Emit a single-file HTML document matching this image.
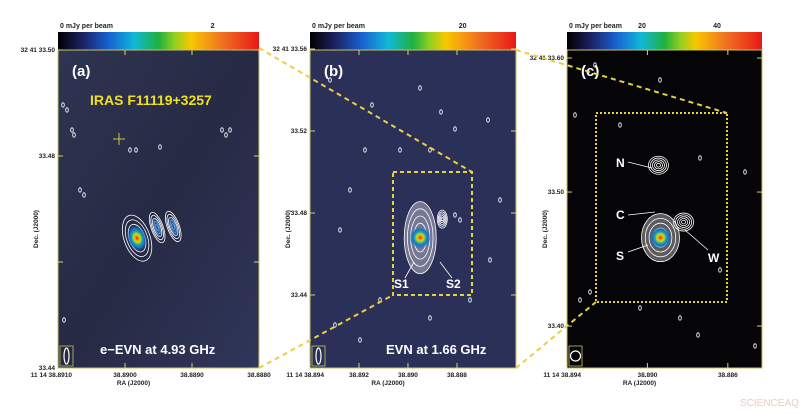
<!DOCTYPE html>
<html><head><meta charset="utf-8"><style>
body{margin:0;background:#fff;width:800px;height:414px;overflow:hidden;font-family:"Liberation Sans",sans-serif}
svg{display:block}
</style></head><body>
<svg id="fig" width="800" height="414" viewBox="0 0 800 414" xmlns="http://www.w3.org/2000/svg" font-family="Liberation Sans, sans-serif">
<defs>
<linearGradient id="cbar" x1="0" x2="1">
<stop offset="0" stop-color="#000"/><stop offset="0.12" stop-color="#1c2060"/><stop offset="0.25" stop-color="#1860d0"/><stop offset="0.38" stop-color="#10b8d8"/><stop offset="0.5" stop-color="#20b040"/><stop offset="0.58" stop-color="#90d020"/><stop offset="0.66" stop-color="#f8c800"/><stop offset="0.82" stop-color="#f07020"/><stop offset="1" stop-color="#e81818"/>
</linearGradient>
<radialGradient id="blob">
<stop offset="0" stop-color="#e01810"/><stop offset="0.18" stop-color="#f0a010"/><stop offset="0.35" stop-color="#c0d820"/><stop offset="0.5" stop-color="#20b090"/><stop offset="0.7" stop-color="#1870d0"/><stop offset="1" stop-color="#1870d0" stop-opacity="0"/>
</radialGradient>
<linearGradient id="bgA" x1="0" y1="0" x2="1" y2="1">
<stop offset="0" stop-color="#2e3452"/><stop offset="0.5" stop-color="#262a44"/><stop offset="1" stop-color="#30365a"/>
</linearGradient>
</defs>
<g id="root"></g>
<text x="740" y="406" font-size="10" fill="#f0c8c8">SCIENCEAQ.COM</text>
</svg>
<script>
// Panel axis data
const panelIds = ['a','b','c'];
const raTicksA = [38.8910, 38.8900, 38.8890, 38.8880];
const raLabelsA = ['11 14 38.8910','38.8900','38.8890','38.8880'];
const decTicksA = [33.50, 33.48, 33.46, 33.44];
const decLabelsA = ['32 41 33.50','33.48','','33.44'];
const raTicksB = [38.894, 38.892, 38.890, 38.888];
const raLabelsB = ['11 14 38.894','38.892','38.890','38.888'];
const decTicksB = [33.56, 33.52, 33.48, 33.44];
const decLabelsB = ['32 41 33.56','33.52','33.48','33.44'];
const raTicksC = [38.894, 38.890, 38.886];
const raLabelsC = ['11 14 38.894','38.890','38.886'];
const decTicksC = [33.60, 33.50, 33.40];
const decLabelsC = ['32 41 33.60','33.50','33.40'];
const cbarTicksA = [0, 2]; const cbarLabelsA = ['0 mJy per beam','2'];
const cbarTicksB = [0, 20]; const cbarLabelsB = ['0 mJy per beam','20'];
const cbarTicksC = [0, 20, 40]; const cbarLabelsC = ['0 mJy per beam','20','40'];
// source components: ra, dec, peak (relative)
const compRaA = [38.88982, 38.88952, 38.88928];
const compDecA = [33.4645, 33.4665, 33.4667];
const compPeakA = [1.0, 0.25, 0.3];
const compRaB = [38.8895, 38.8886];
const compDecB = [33.4680, 33.4770];
const compPeakB = [1.0, 0.3];
const compRaC = [38.88935, 38.88945, 38.8882];
const compDecC = [33.4660, 33.5200, 33.4776];
const compPeakC = [1.0, 0.35, 0.4];

const P = {
 a:{x0:58,x1:259,y0:50,y1:368,ra0:38.8910,ra1:38.8880,dec0:33.44,dec1:33.50,bg:'url(#bgA)',cmax:2.6},
 b:{x0:310,x1:516,y0:50,y1:368,ra0:38.894,ra1:38.88559,dec0:33.4044,dec1:33.5595,bg:'#2b3058',cmax:27},
 c:{x0:567,x1:762,y0:50,y1:368,ra0:38.894,ra1:38.8843,dec0:33.3687,dec1:33.6060,bg:'#050508',cmax:52}
};
const ns='http://www.w3.org/2000/svg';
const root=document.getElementById('root');
function mk(tag,attrs,parent){const e=document.createElementNS(ns,tag);for(const k in attrs)e.setAttribute(k,attrs[k]);(parent||root).appendChild(e);return e;}
function xs(p,ra){return p.x0+(ra-p.ra0)/(p.ra1-p.ra0)*(p.x1-p.x0);}
function ys(p,d){return p.y1-(d-p.dec0)/(p.dec1-p.dec0)*(p.y1-p.y0);}
function cx(p,v){return p.x0+v/p.cmax*(p.x1-p.x0);}

const sets={a:[raTicksA,raLabelsA,decTicksA,decLabelsA,cbarTicksA,cbarLabelsA,compRaA,compDecA,compPeakA],
 b:[raTicksB,raLabelsB,decTicksB,decLabelsB,cbarTicksB,cbarLabelsB,compRaB,compDecB,compPeakB],
 c:[raTicksC,raLabelsC,decTicksC,decLabelsC,cbarTicksC,cbarLabelsC,compRaC,compDecC,compPeakC]};
const speck={b:[[330,80],[372,105],[420,88],[441,112],[455,129],[365,150],[400,150],[430,150],[488,120],[350,190],[380,300],[430,318],[470,300],[335,325],[360,340],[490,260],[500,200],[340,230],[455,215],[460,220]],
 c:[[595,65],[660,80],[575,115],[620,125],[700,158],[745,172],[590,292],[640,308],[680,318],[698,335],[755,346],[580,300],[720,270]],
 a:[[63,105],[67,110],[72,130],[74,135],[130,150],[136,150],[222,130],[226,135],[230,130],[160,147],[64,320],[80,190],[84,195]]};

panelIds.forEach(id=>{
 const p=P[id];const [rt,rl,dt,dl,ct,cl,cr,cd,cp]=sets[id];
 const g=mk('g',{});
 
 
 const cb=mk('rect',{x:p.x0,y:32,width:p.x1-p.x0,height:18,fill:'url(#cbar)'},g);
 
 
 ct.forEach((v,i)=>{const t=mk('text',{x:cx(p,v)+(i==0?2:0),y:28,'font-size':7,'font-weight':'bold',fill:'#222','text-anchor':i==0?'start':'middle'},g);t.textContent=cl[i];
  
  });
 const bg=mk('rect',{x:p.x0,y:p.y0,width:p.x1-p.x0,height:p.y1-p.y0,fill:p.bg,stroke:'#c8c060','stroke-width':1},g);
 
 
 speck[id].forEach(s=>mk('ellipse',{cx:s[0],cy:s[1],rx:1.3,ry:2.2,fill:'none',stroke:'#fff','stroke-width':0.8},g));
 cr.forEach((ra,i)=>{
  const X=xs(p,ra),Y=ys(p,cd[i]);const s=cp[i];
  const comp=mk('g',{transform:`translate(${X},${Y}) rotate(${id=='a'?-20:0})`},g);
  
  
  const rx=id=='a'?(i==0?13:6):(id=='b'?(i==0?16:5):(i==0?19:10));
  const ry=id=='a'?(i==0?24:16):(id=='b'?(i==0?36:9):(i==0?24:9));
  if(id!='a'&&i==0)mk('ellipse',{cx:0,cy:0,rx:rx,ry:ry,fill:'#ffffff',opacity:0.35},comp);
  for(let k=5;k>=1;k--)mk('ellipse',{cx:0,cy:0,rx:rx*k/5,ry:ry*k/5,fill:'none',stroke:'#fff','stroke-width':0.8},comp);
  if(s>0.5)mk('ellipse',{cx:0,cy:0,rx:id=='a'?rx*0.75:11,ry:id=='a'?ry*0.55:11,fill:'url(#blob)'},comp);
  else if(id=='a')mk('ellipse',{cx:0,cy:0,rx:rx*0.5,ry:ry*0.6,fill:'#2a70c0',opacity:0.7},comp);
 });
 rt.forEach((v,i)=>{const X=xs(p,v);
  mk('line',{x1:X,y1:p.y1,x2:X,y2:p.y1-5,stroke:'#d8d070'},g);mk('line',{x1:X,y1:p.y0,x2:X,y2:p.y0+5,stroke:'#d8d070'},g);
  const t=mk('text',{x:X,y:p.y1+9,'font-size':6.5,'font-weight':'bold',fill:'#222','text-anchor':i==0?'end':'middle'},g);t.textContent=rl[i];
  if(i==0)t.setAttribute('x',X+14);
  
  });
 dt.forEach((v,i)=>{const Y=ys(p,v);
  mk('line',{x1:p.x0,y1:Y,x2:p.x0+5,y2:Y,stroke:'#d8d070'},g);mk('line',{x1:p.x1,y1:Y,x2:p.x1-5,y2:Y,stroke:'#d8d070'},g);
  const t=mk('text',{x:p.x0-3,y:Y+2,'font-size':6.5,'font-weight':'bold',fill:'#222','text-anchor':'end'},g);t.textContent=dl[i];
  
  });
 const xt=mk('text',{x:(p.x0+p.x1)/2-25,y:p.y1+17,'font-size':6.5,'font-weight':'bold',fill:'#222','text-anchor':'middle'},g);xt.textContent='RA (J2000)';
 
 
 const yt=mk('text',{x:0,y:0,'font-size':6.5,'font-weight':'bold',fill:'#222','text-anchor':'middle',transform:`translate(${p.x0-20},${(p.y0+p.y1)/2+20}) rotate(-90)`},g);yt.textContent='Dec. (J2000)';
 
 
 const lab=mk('text',{x:p.x0+14,y:p.y0+26,'font-size':15,'font-weight':'bold',fill:'#fff'},g);lab.textContent='('+id+')';
 
 
 const bb=mk('rect',{x:p.x0+2,y:p.y1-22,width:13,height:20,fill:'none',stroke:'#c8c060','stroke-width':0.8},g);
 
 
 mk('ellipse',{cx:p.x0+8.5,cy:p.y1-12,rx:id=='c'?5:2.5,ry:id=='c'?5:8,fill:'none',stroke:'#fff','stroke-width':1.2},g);
});
function txt(x,y,s,size,fill,name){const t=mk('text',{x:x,y:y,'font-size':size,'font-weight':'bold',fill:fill});t.textContent=s;
 
 return t;}
txt(90,105,'IRAS F11119+3257',14,'#f0e020','source-name');
txt(100,354,'e\u2212EVN at 4.93 GHz',13,'#fff','frequency-label-a');
txt(386,354,'EVN at 1.66 GHz',13,'#fff','frequency-label-b');
txt(394,288,'S1',12,'#fff','label-s1');txt(446,288,'S2',12,'#fff','label-s2');
txt(616,167,'N',12,'#fff','label-n');txt(616,219,'C',12,'#fff','label-c');
txt(616,260,'S',12,'#fff','label-s');txt(708,262,'W',12,'#fff','label-w');
[[628,162,652,168],[628,215,655,212],[628,252,648,245],[708,250,685,230],[405,278,414,262],[452,278,440,262]].forEach(l=>mk('line',{x1:l[0],y1:l[1],x2:l[2],y2:l[3],stroke:'#fff','stroke-width':0.8}));
const zb=mk('rect',{x:393,y:172,width:79,height:123,fill:'none',stroke:'#e8d040','stroke-width':2,'stroke-dasharray':'4 3'});


const zc=mk('rect',{x:596,y:113,width:131,height:189,fill:'none',stroke:'#e8d040','stroke-width':2,'stroke-dasharray':'2 2'});


[[259,48,472,172],[259,368,393,295],[516,50,727,113],[516,368,596,302]].forEach(l=>{const e=mk('line',{x1:l[0],y1:l[1],x2:l[2],y2:l[3],stroke:'#e8d040','stroke-width':2,'stroke-dasharray':'5 4'});
 
 });
mk('path',{d:'M113 139h12M119 133v12',stroke:'#d8c040','stroke-width':1});
</script>
</body></html>
